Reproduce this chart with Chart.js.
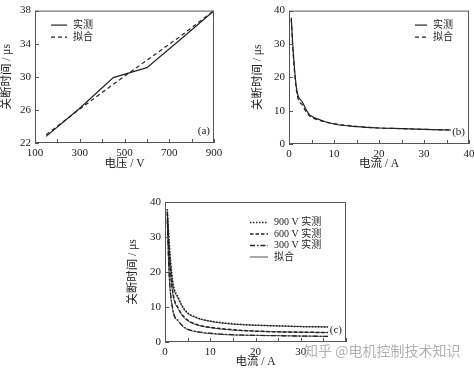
<!DOCTYPE html>
<html>
<head>
<meta charset="utf-8">
<script src="https://cdn.jsdelivr.net/npm/chart.js@4.4.0/dist/chart.umd.min.js"></script>
<style>
    body { margin: 0; background: #fff; width: 474px; height: 369px; overflow: hidden; position: relative; }
    .panel { position: absolute; }
    #wm { position: absolute; left: 304px; top: 340px; font: 14px "Noto Sans CJK SC"; color: rgba(150,150,150,0.75); white-space: nowrap; }
</style>
</head>
<body>
<div class="panel" style="left:0;top:0;width:237px;height:175px"><canvas id="chartA"></canvas></div>
<div class="panel" style="left:237px;top:0;width:245px;height:175px"><canvas id="chartB"></canvas></div>
<div class="panel" style="left:120px;top:180px;width:240px;height:189px"><canvas id="chartC"></canvas></div>
<div id="wm">知乎 @电机控制技术知识</div>
<script>
// (a) turn-off time vs voltage
const voltA = [150, 300, 450, 525, 600, 750, 900];
const measA = [22.8, 26.2, 29.9, 30.5, 31.1, 34.5, 38.0];
const voltFitA = [150, 300, 450, 600, 750, 900];
const fitA = [23.0, 26.1, 29.1, 32.0, 34.9, 38.0];

// (b) turn-off time vs current
const currB = [0.5, 0.9, 1.7, 3, 4.3, 7, 10, 15, 20, 25, 30, 36];
const measB = [37.9, 28.5, 16.4, 12.5, 9.2, 7.2, 6.0, 5.2, 4.8, 4.6, 4.4, 4.2];
const fitB = [37.4, 27.5, 15.6, 11.6, 8.8, 7.0, 6.1, 5.3, 4.8, 4.6, 4.4, 4.2];

// (c) three voltages
const currC = [0.5, 0.9, 1.7, 3, 4.5, 7, 10, 15, 20, 25, 30, 36];
const meas900 = [38.0, 29.0, 17.5, 12.5, 9.0, 7.0, 6.0, 5.2, 4.8, 4.6, 4.4, 4.3];
const fit900 = [37.5, 28.0, 17.0, 12.2, 8.8, 6.9, 5.9, 5.1, 4.8, 4.6, 4.4, 4.3];
const meas600 = [37.0, 26.0, 14.5, 9.5, 6.8, 5.0, 4.2, 3.5, 3.1, 2.9, 2.8, 2.7];
const fit600 = [36.5, 25.0, 14.0, 9.3, 6.6, 4.9, 4.1, 3.4, 3.1, 2.9, 2.8, 2.7];
const meas300 = [35.0, 20.0, 9.5, 6.0, 4.0, 3.0, 2.5, 2.1, 1.9, 1.8, 1.7, 1.6];
const fit300 = [34.5, 19.5, 9.2, 5.8, 3.9, 2.9, 2.4, 2.0, 1.9, 1.8, 1.7, 1.6];

Chart.defaults.font.family = '"Liberation Serif", "Noto Sans CJK SC", serif';
Chart.defaults.font.size = 11;
Chart.defaults.color = '#222';

const ink = '#222';

function pts(xs, ys) {
    return xs.map((x, i) => ({ x: x, y: ys[i] }));
}

// frame, inward ticks, legend and panel tag
const decor = {
    id: 'decor',
    afterDatasetsDraw(chart, args, opts) {
        const { ctx, chartArea: a, scales } = chart;
        ctx.save();
        ctx.strokeStyle = '#555';
        ctx.lineWidth = 1;
        ctx.setLineDash([]);
        ctx.strokeRect(a.left + 0.5, a.top + 0.5, a.width - 1, a.height - 1);

        const xs = scales.x, ys = scales.y;
        const xt = xs.ticks.map(t => t.value);
        const step = xt[1] - xt[0];
        ctx.beginPath();
        for (let v = xs.min; v <= xs.max + 1e-9; v += step / 2) {
            const px = Math.round(xs.getPixelForValue(v)) + 0.5;
            ctx.moveTo(px, a.bottom);
            ctx.lineTo(px, a.bottom - 4);
        }
        ys.ticks.forEach(t => {
            const py = Math.round(ys.getPixelForValue(t.value)) + 0.5;
            ctx.moveTo(a.left, py);
            ctx.lineTo(a.left + 4, py);
        });
        ctx.stroke();

        // legend
        const lg = opts.legend;
        let row = 0;
        ctx.font = '10px "Liberation Serif", "Noto Sans CJK SC", serif';
        ctx.textBaseline = 'middle';
        ctx.fillStyle = ink;
        chart.data.datasets.forEach(ds => {
            if (ds.inLegend === false) return;
            const y = a.top + lg.y + row * lg.rowH + 0.5;
            const x = a.left + lg.x;
            ctx.strokeStyle = ink;
            ctx.lineWidth = ds.borderWidth;
            ctx.setLineDash(ds.borderDash || []);
            ctx.beginPath();
            ctx.moveTo(x, y);
            ctx.lineTo(x + lg.lineW, y);
            ctx.stroke();
            ctx.fillText(ds.label, x + lg.lineW + 6, y);
            row++;
        });

        ctx.font = '11px "Liberation Serif", serif';
        ctx.textAlign = 'right';
        ctx.fillText(opts.tag, a.right - 4, a.bottom - 12);
        ctx.restore();
    }
};

function makeChart(id, datasets, cfg) {
    new Chart(document.getElementById(id), {
        type: 'line',
        data: { datasets: datasets },
        options: {
            responsive: true,
            maintainAspectRatio: false,
            animation: false,
            layout: { padding: cfg.padding },
            elements: { point: { radius: 0 } },
            plugins: {
                legend: { display: false },
                tooltip: { enabled: false },
                decor: { legend: cfg.legend, tag: cfg.tag }
            },
            scales: {
                x: {
                    type: 'linear',
                    min: cfg.xMin, max: cfg.xMax,
                    grid: { display: false, drawTicks: false },
                    border: { display: false },
                    ticks: { stepSize: cfg.xStep, padding: 4, callback: cfg.xLabel || (v => v) },
                    title: { display: true, text: cfg.xTitle, padding: cfg.xTitlePad, font: { size: 11.5 } },
                    afterFit: s => { s.height = cfg.xH; }
                },
                y: {
                    min: cfg.yMin, max: cfg.yMax,
                    grid: { display: false, drawTicks: false },
                    border: { display: false },
                    ticks: { stepSize: cfg.yStep, padding: 4 },
                    title: { display: true, text: '关断时间 / μs', padding: { top: 0, bottom: 2 }, font: { size: 11.5 } },
                    afterFit: s => { s.width = cfg.yW; }
                }
            }
        },
        plugins: [decor]
    });
}

makeChart('chartA', [
    { label: '实测', data: pts(voltA, measA), borderColor: ink, borderWidth: 1.2, tension: 0 },
    { label: '拟合', data: pts(voltFitA, fitA), borderColor: ink, borderWidth: 1.2, borderDash: [4, 3], tension: 0 }
], {
    padding: { left: 0, top: 3, right: 23, bottom: 0 },
    xMin: 100, xMax: 900, xStep: 200, xTitle: '电压 / V', xH: 32, xTitlePad: { top: 2, bottom: 4 },
    yMin: 22, yMax: 38, yStep: 4, yW: 35,
    legend: { x: 16, y: 14, rowH: 12, lineW: 16 }, tag: '(a)'
});

makeChart('chartB', [
    { label: '实测', data: pts(currB, measB), borderColor: ink, borderWidth: 1.2, cubicInterpolationMode: 'monotone' },
    { label: '拟合', data: pts(currB, fitB), borderColor: ink, borderWidth: 1.2, borderDash: [4, 3], cubicInterpolationMode: 'monotone' }
], {
    padding: { left: 14, top: 3, right: 13, bottom: 0 },
    xMin: 0, xMax: 40, xStep: 10, xTitle: '电流 / A', xH: 31, xTitlePad: { top: 2, bottom: 4 },
    yMin: 0, yMax: 40, yStep: 10, yW: 38,
    legend: { x: 126, y: 14, rowH: 12, lineW: 12 }, tag: '(b)'
});

makeChart('chartC', [
    { label: '900 V 实测', data: pts(currC, meas900), borderColor: ink, borderWidth: 1.5, borderDash: [1.5, 1.5], cubicInterpolationMode: 'monotone' },
    { label: '600 V 实测', data: pts(currC, meas600), borderColor: ink, borderWidth: 1.5, borderDash: [3.5, 2], cubicInterpolationMode: 'monotone' },
    { label: '300 V 实测', data: pts(currC, meas300), borderColor: ink, borderWidth: 1.3, borderDash: [5, 2, 1.5, 2], cubicInterpolationMode: 'monotone' },
    { label: '拟合', data: pts(currC, fit900), borderColor: ink, borderWidth: 0.8, cubicInterpolationMode: 'monotone' },
    { label: '拟合', inLegend: false, data: pts(currC, fit600), borderColor: ink, borderWidth: 0.8, cubicInterpolationMode: 'monotone' },
    { label: '拟合', inLegend: false, data: pts(currC, fit300), borderColor: ink, borderWidth: 0.8, cubicInterpolationMode: 'monotone' }
], {
    padding: { left: 6, top: 22, right: 14, bottom: 0 },
    xMin: 0, xMax: 40, xStep: 10, xTitle: '电流 / A', xH: 27, xTitlePad: { top: 0, bottom: 0 },
    xLabel: v => (v === 40 ? '' : v),
    yMin: 0, yMax: 40, yStep: 10, yW: 39,
    legend: { x: 85, y: 20, rowH: 11.5, lineW: 18 }, tag: '(c)'
});
</script>
</body>
</html>
